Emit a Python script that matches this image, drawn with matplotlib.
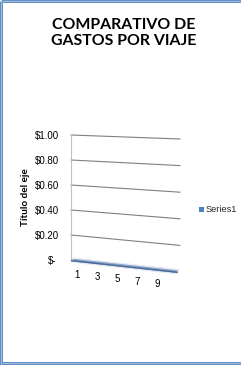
import numpy as np
import matplotlib.pyplot as plt
from matplotlib.patches import Rectangle, Polygon

categories = [1, 2, 3, 4, 5, 6, 7, 8, 9, 10]
series1 = [0, 0, 0, 0, 0, 0, 0, 0, 0, 0]
y_ticks = [0.0, 0.2, 0.4, 0.6, 0.8, 1.0]
y_labels = ["$-", "$0.20", "$0.40", "$0.60", "$0.80", "$1.00"]
x_labels = [1, 3, 5, 7, 9]

W, H = 241, 365
fig = plt.figure(figsize=(W / 100, H / 100), dpi=100)
ax = fig.add_axes([0, 0, 1, 1])
ax.set_xlim(0, W)
ax.set_ylim(H, 0)
ax.axis("off")

# perspective of the 3D plot area (pixel space)
X0, X1 = 71, 180


def proj(t, v):
    yl = 260 - 125 * v
    yr = 272 - 133 * v
    return X0 + (X1 - X0) * t, (1 - t) * yl + t * yr


# gridlines
for v in y_ticks[1:]:
    xa, ya = proj(0, v)
    xb, yb = proj(1, v)
    ax.plot([xa, xb], [ya, yb], color="#808080", lw=0.8)
# back wall vertical edge
xa, ya = proj(0, 0)
xb, yb = proj(0, 1)
ax.plot([xa, xb], [ya, yb], color="#c0c0c0", lw=0.8)

# y tick labels
for v, lab in zip(y_ticks, y_labels):
    xr = 56.5 if v == 0 else 59.5
    ax.text(xr, 261 - 125.5 * v, lab, ha="right", va="center",
            fontsize=7, family="Liberation Sans", color="#000000")

# category labels (front edge of the floor)
n = len(categories)
for c in x_labels:
    t = (c - 0.5) / n
    _, y = proj(t, 0)
    ax.text(72 + 100 * t, y + 14, str(c), ha="center", va="center",
            fontsize=7, family="Liberation Sans")

# series ribbon (3D line at its values)
ts = [i / (n - 1) * 0.97 + 0.005 for i in range(n)]
pts = [proj(t, v) for t, v in zip(ts, series1)]
xs = [p[0] for p in pts]
ys = [p[1] for p in pts]
top = [(x + 1.5, y - 2.0) for x, y in zip(xs, ys)]
bot = [(x - 0.5, y + 2.0) for x, y in zip(xs, ys)]
ax.add_patch(Polygon(top + bot[::-1], closed=True, facecolor="#8ba4c6",
                     edgecolor="#e6ebf2", lw=1.0))
ax.plot(xs, [y + 0.6 for y in ys], color="#4a6a9a", lw=1.0)

# axis title
ax.text(25, 197, "Título del eje", rotation=90, ha="center", va="center",
        fontsize=7.2, fontweight="bold", family="Lato")

# chart title
ax.text(124, 33, "COMPARATIVO DE\nGASTOS POR VIAJE", ha="center", va="center",
        fontsize=11.4, fontweight="bold", family="Lato", linespacing=1.2)

# legend
ax.add_patch(Rectangle((199, 207), 5, 5, facecolor="#4f81bd", edgecolor="none"))
ax.text(206, 209.5, "Series1", ha="left", va="center", fontsize=6.6,
        family="Liberation Sans", color="#262626")

# frame of the chart area
ax.add_patch(Rectangle((1.2, 1.2), W + 10, H - 3.4, facecolor="none",
                       edgecolor="#4f81bd", lw=2.0))
ax.add_patch(Rectangle((1.2, 1.2), W + 10, H - 3.4, facecolor="none",
                       edgecolor="#c6d6ec", lw=0.5))

fig.savefig("out.png", dpi=100)
